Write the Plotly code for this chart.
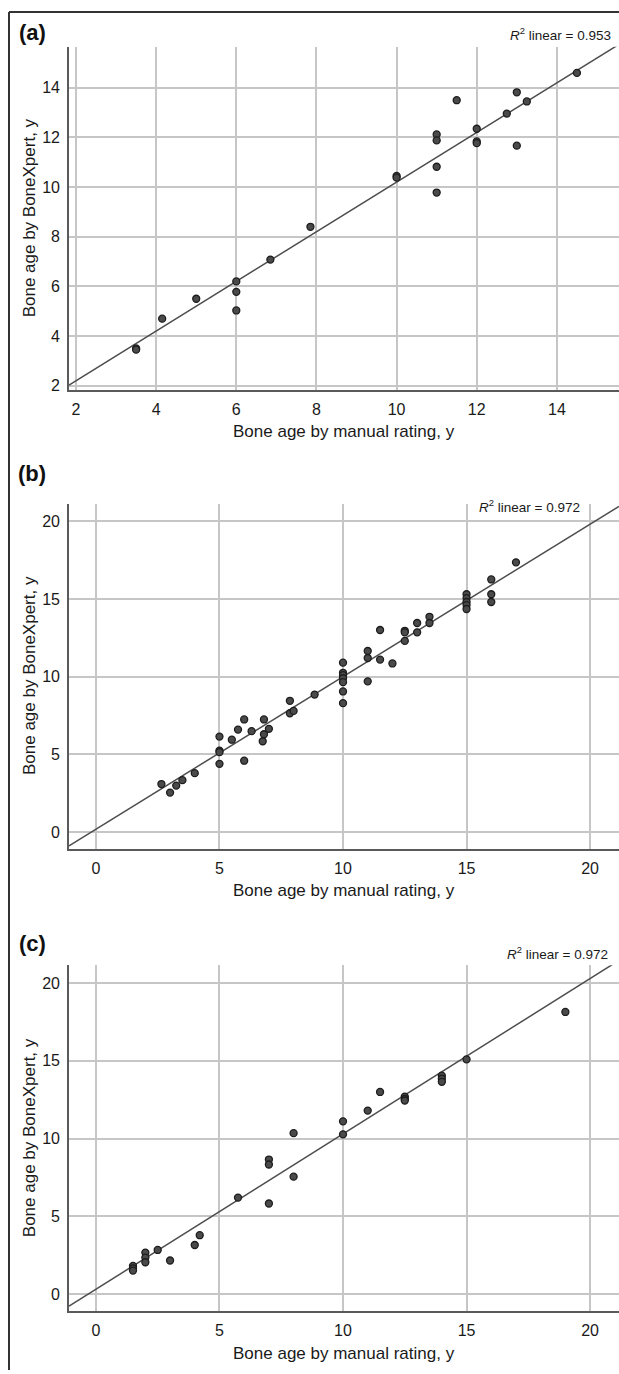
import plotly.graph_objects as go

W, H = 619, 1374

# ---------------- data ----------------
# Panel (a)
a_manual = [3.5, 3.5, 4.15, 5.0, 6.0, 6.0, 6.0, 6.85, 7.85, 10.0, 10.0,
            11.0, 11.0, 11.0, 11.0, 11.5, 12.0, 12.0, 12.0, 12.75, 13.0, 13.0,
            13.25, 14.5]
a_bonexpert = [3.5, 3.45, 4.7, 5.5, 6.2, 5.78, 5.03, 7.08, 8.4, 10.45, 10.38,
               12.12, 11.88, 10.82, 9.78, 13.5, 12.35, 11.84, 11.77, 12.96, 13.82, 11.67,
               13.45, 14.6]
a_r2 = 0.953
a_fit = (1.0, 0.2)          # slope, intercept of drawn fit line

# Panel (b)
b_manual = [2.65, 3.0, 3.25, 3.5, 4.0, 5.0, 5.0, 5.0, 5.0, 5.5, 5.75, 6.0, 6.0,
            6.3, 6.8, 6.8, 6.75, 7.0, 7.85, 7.85, 8.0, 8.85,
            10.0, 10.0, 10.0, 10.0, 10.0, 10.0, 10.0, 11.0, 11.0, 11.0,
            11.5, 11.5, 12.0, 12.5, 12.5, 12.5, 13.0, 13.0, 13.5, 13.5,
            15.0, 15.0, 15.0, 15.0, 15.0, 16.0, 16.0, 16.0, 17.0]
b_bonexpert = [3.1, 2.55, 3.0, 3.35, 3.8, 6.15, 5.25, 5.15, 4.4, 5.95, 6.6, 7.25, 4.6,
               6.5, 7.25, 6.3, 5.85, 6.65, 8.45, 7.65, 7.8, 8.85,
               10.9, 10.25, 10.1, 9.9, 9.65, 9.05, 8.3, 9.7, 11.65, 11.2,
               13.0, 11.1, 10.85, 12.95, 12.85, 12.3, 13.45, 12.85, 13.85, 13.45,
               15.3, 15.05, 14.8, 14.6, 14.35, 16.25, 15.3, 14.8, 17.35]
b_r2 = 0.972
b_fit = (0.98, 0.2)

# Panel (c)
c_manual = [1.5, 1.5, 1.5, 2.0, 2.0, 2.0, 2.5, 3.0, 4.0, 4.2, 5.75,
            7.0, 7.0, 7.0, 8.0, 8.0, 10.0, 10.0, 11.0, 11.5,
            12.5, 12.5, 12.5, 14.0, 14.0, 14.0, 15.0, 19.0]
c_bonexpert = [1.8, 1.65, 1.5, 2.66, 2.34, 2.04, 2.83, 2.15, 3.15, 3.78, 6.2,
               8.65, 8.33, 5.82, 10.35, 7.55, 11.11, 10.27, 11.8, 13.0,
               12.7, 12.55, 12.45, 14.05, 13.85, 13.65, 15.1, 18.15]
c_r2 = 0.972
c_fit = (1.0, 0.3)

a_ticks = [2, 4, 6, 8, 10, 12, 14]
bc_ticks = [0, 5, 10, 15, 20]

panel_labels = ["(a)", "(b)", "(c)"]
x_title = "Bone age by manual rating, y"
y_title = "Bone age by BoneXpert, y"

# ---------------- layout helpers ----------------
def px_x(p):
    return p / W

def px_y(p):
    return 1 - p / H

FONT = "Liberation Sans, Arial, Helvetica, sans-serif"
GRID = "#c6c6c6"
AXIS = "#5a5a5a"
TXT = "#1a1a1a"

panels = [
    dict(x=a_manual, y=a_bonexpert, r2=a_r2, fit=a_fit, ticks=a_ticks,
         xr=[1.825, 15.55], yr=[1.83, 15.65], top=47, bottom=391,
         lab_y=33, r2_y=34, r2_x=613),
    dict(x=b_manual, y=b_bonexpert, r2=b_r2, fit=b_fit, ticks=bc_ticks,
         xr=[-1.09, 21.17], yr=[-1.045, 21.13], top=505, bottom=851,
         lab_y=475, r2_y=507, r2_x=582),
    dict(x=c_manual, y=c_bonexpert, r2=c_r2, fit=c_fit, ticks=bc_ticks,
         xr=[-1.09, 21.17], yr=[-1.11, 21.16], top=968, bottom=1315,
         lab_y=946, r2_y=956, r2_x=610),
]

fig = go.Figure()
annotations = []
shapes = []
LEFT = 69

for i, p in enumerate(panels):
    n = "" if i == 0 else str(i + 1)
    xa, ya = "x" + n, "y" + n
    # fit line across the x range
    s, b = p["fit"]
    xs = [p["xr"][0], p["xr"][1]]
    ys = [s * v + b for v in xs]
    fig.add_trace(go.Scatter(x=xs, y=ys, mode="lines", xaxis=xa, yaxis=ya,
                             line=dict(color="#4d4d4d", width=1.5),
                             showlegend=False, hoverinfo="skip"))
    fig.add_trace(go.Scatter(x=p["x"], y=p["y"], mode="markers", xaxis=xa, yaxis=ya,
                             marker=dict(size=7, color="#4a4a4a",
                                         line=dict(color="#1c1c1c", width=1.3)),
                             showlegend=False))
    axis_common = dict(showgrid=True, gridcolor=GRID, gridwidth=1.5,
                       zeroline=False, showline=True, linecolor=AXIS, linewidth=1.6,
                       ticks="outside", ticklen=4, tickcolor="rgba(0,0,0,0)",
                       tickfont=dict(family=FONT, size=16, color=TXT),
                       tickvals=p["ticks"], fixedrange=True)
    fig.layout["xaxis" + n] = dict(axis_common, domain=[px_x(LEFT), 1.0],
                                   range=p["xr"], anchor=ya)
    fig.layout["yaxis" + n] = dict(axis_common,
                                   domain=[px_y(p["bottom"]), px_y(p["top"])],
                                   range=p["yr"], anchor=xa)
    mid_y = (p["top"] + p["bottom"]) / 2
    annotations += [
        dict(text="<b>%s</b>" % panel_labels[i], x=px_x(32), y=px_y(p["lab_y"]),
             xref="paper", yref="paper", showarrow=False, xanchor="center",
             yanchor="middle", font=dict(family=FONT, size=22, color="#111")),
        dict(text="<i>R</i><sup>2</sup> linear = %.3f" % p["r2"], x=px_x(p["r2_x"]),
             y=px_y(p["r2_y"]), xref="paper", yref="paper", showarrow=False,
             xanchor="right", yanchor="middle",
             font=dict(family=FONT, size=13.5, color=TXT)),
        dict(text=x_title, x=px_x((LEFT + W) / 2), y=px_y(p["bottom"] + 42),
             xref="paper", yref="paper", showarrow=False, xanchor="center",
             yanchor="middle", font=dict(family=FONT, size=17, color=TXT)),
        dict(text=y_title, x=px_x(29), y=px_y(mid_y), textangle=-90,
             xref="paper", yref="paper", showarrow=False, xanchor="center",
             yanchor="middle", font=dict(family=FONT, size=17, color=TXT)),
    ]

# outer frame (left and top edges visible)
shapes += [
    dict(type="line", xref="paper", yref="paper", x0=px_x(9), x1=px_x(9),
         y0=px_y(12), y1=0, line=dict(color="#333", width=2)),
    dict(type="line", xref="paper", yref="paper", x0=px_x(9), x1=1,
         y0=px_y(12), y1=px_y(12), line=dict(color="#333", width=2)),
]

fig.update_layout(width=W, height=H, margin=dict(l=0, r=0, t=0, b=0),
                  paper_bgcolor="white", plot_bgcolor="white",
                  annotations=annotations, shapes=shapes, showlegend=False)

fig.write_html("out.html", config={"displayModeBar": False})
